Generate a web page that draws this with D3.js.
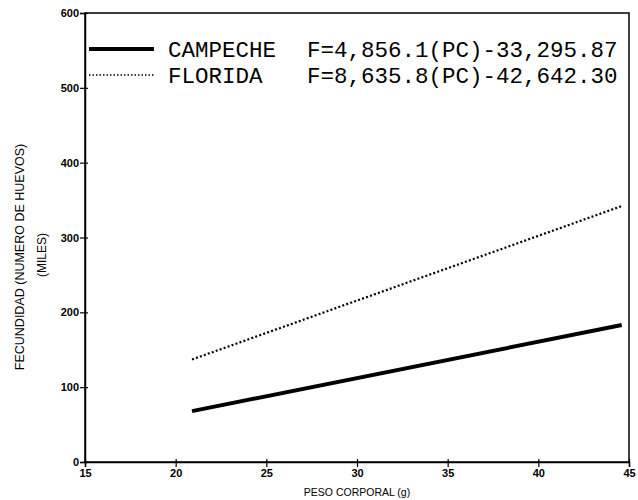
<!DOCTYPE html>
<html>
<head>
<meta charset="utf-8">
<script src="https://cdn.jsdelivr.net/npm/d3@7"></script>
<style>
  body { margin: 0; background: #fff; }
</style>
</head>
<body>
<div id="plot"></div>
<script>
// Data
const pesoRange = [20.9, 44.6];
const campeche = [68, 183];
const florida = [137, 342];
const xTicks = [15, 20, 25, 30, 35, 40, 45];
const yTicks = [0, 100, 200, 300, 400, 500, 600];
const legendNames = ["CAMPECHE", "FLORIDA"];
const legendEqs = ["F=4,856.1(PC)-33,295.87", "F=8,635.8(PC)-42,642.30"];

const svgWidth = 638;
const svgHeight = 500;
const margin = { top: 13, right: 9, bottom: 38, left: 85 };
const width = svgWidth - margin.left - margin.right;
const height = svgHeight - margin.top - margin.bottom;

const svg = d3.select("#plot")
    .append("svg")
    .attr("width", svgWidth)
    .attr("height", svgHeight);

const g = svg.append("g")
    .attr("transform", `translate(${margin.left}, ${margin.top})`);

const xScale = d3.scaleLinear().domain([15, 45]).range([0, width]);
const yScale = d3.scaleLinear().domain([0, 600]).range([height, 0]);

// frame
g.append("rect")
    .attr("width", width)
    .attr("height", height)
    .attr("fill", "none")
    .attr("stroke", "#000")
    .attr("stroke-width", 1.5);

const tickFont = "Liberation Sans, Arial, sans-serif";

const xAxis = g.append("g")
    .attr("transform", `translate(0, ${height})`)
    .call(d3.axisBottom(xScale).tickValues(xTicks).tickSize(5).tickPadding(2));

const yAxis = g.append("g")
    .call(d3.axisLeft(yScale).tickValues(yTicks).tickSize(5).tickPadding(1));

[xAxis, yAxis].forEach(a => {
    a.select(".domain").attr("stroke-width", 1.5);
    a.selectAll(".tick line").attr("stroke-width", 1.2);
    a.selectAll("text")
        .style("font-family", tickFont)
        .style("font-size", "11px")
        .style("font-weight", "bold")
        .attr("fill", "#000");
});
xAxis.selectAll(".tick line").attr("y1", -3);
yAxis.selectAll(".tick line").attr("x1", 3);

// regression lines
const line = d3.line()
    .x(d => xScale(d[0]))
    .y(d => yScale(d[1]));

const series = [
    { name: "CAMPECHE", vals: campeche, width: 4, dash: null },
    { name: "FLORIDA", vals: florida, width: 2.2, dash: "2,2.2" }
];

series.forEach(s => {
    g.append("path")
        .datum(pesoRange.map((x, i) => [x, s.vals[i]]))
        .attr("d", line)
        .attr("fill", "none")
        .attr("stroke", "#000")
        .attr("stroke-width", s.width)
        .attr("stroke-dasharray", s.dash);
});

// legend
const monoFont = "Liberation Mono, Courier New, monospace";
const legend = svg.append("g").attr("transform", "translate(89, 49)");
series.forEach((s, i) => {
    const row = legend.append("g").attr("transform", `translate(0, ${i * 26})`);
    row.append("line")
        .attr("x1", 0).attr("x2", 65)
        .attr("stroke", "#000")
        .attr("stroke-width", i === 0 ? 4 : 1.5)
        .attr("stroke-dasharray", i === 0 ? null : "1.5,2");
    row.append("text")
        .attr("x", 79).attr("y", 8)
        .style("font-family", monoFont)
        .style("font-size", "22.5px")
        .text(legendNames[i]);
    row.append("text")
        .attr("x", 218).attr("y", 8)
        .style("font-family", monoFont)
        .style("font-size", "22.5px")
        .text(legendEqs[i]);
});

// axis titles
const titleFont = "Liberation Sans, Arial, sans-serif";
svg.append("text")
    .attr("x", margin.left + width / 2)
    .attr("y", svgHeight - 4)
    .attr("text-anchor", "middle")
    .style("font-family", titleFont)
    .style("font-size", "10.5px")
    .text("PESO CORPORAL (g)");

svg.append("text")
    .attr("transform", "translate(24, 257) rotate(-90)")
    .attr("text-anchor", "middle")
    .style("font-family", titleFont)
    .style("font-size", "12.5px")
    .text("FECUNDIDAD (NUMERO DE HUEVOS)");

svg.append("text")
    .attr("transform", "translate(46, 255) rotate(-90)")
    .attr("text-anchor", "middle")
    .style("font-family", titleFont)
    .style("font-size", "12px")
    .text("(MILES)");
</script>
</body>
</html>
